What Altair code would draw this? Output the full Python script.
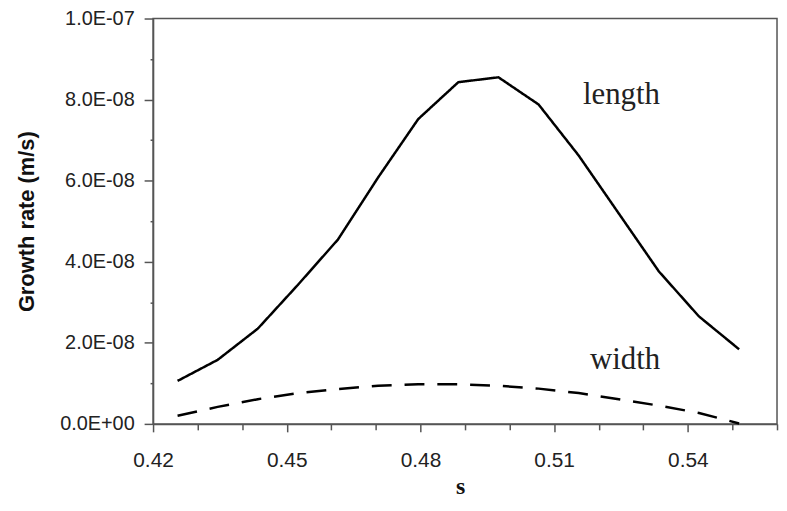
import altair as alt
import pandas as pd

s_values = [0.4255, 0.4345, 0.4435, 0.4525, 0.4615, 0.4705, 0.4795, 0.4885,
            0.4975, 0.5065, 0.5155, 0.5245, 0.5335, 0.5425, 0.5515]
length_rate = [1.06e-8, 1.58e-8, 2.35e-8, 3.43e-8, 4.55e-8, 6.08e-8, 7.52e-8, 8.43e-8,
               8.55e-8, 7.88e-8, 6.62e-8, 5.19e-8, 3.76e-8, 2.65e-8, 1.84e-8]
width_rate = [2.0e-9, 4.2e-9, 6.1e-9, 7.6e-9, 8.6e-9, 9.4e-9, 9.8e-9, 9.8e-9,
              9.4e-9, 8.7e-9, 7.6e-9, 6.1e-9, 4.5e-9, 2.7e-9, 0.1e-9]

label_text = ["length", "width"]
label_s = [0.5251, 0.5259]
label_rate = [7.88e-8, 1.35e-8]

x_major = [0.42, 0.45, 0.48, 0.51, 0.54]
x_minor = [0.43, 0.44, 0.46, 0.47, 0.49, 0.50, 0.52, 0.53, 0.55, 0.56]
y_major = [0, 2e-8, 4e-8, 6e-8, 8e-8, 1e-7]
y_minor = [1e-8, 3e-8, 5e-8, 7e-8, 9e-8]

df = pd.DataFrame({
    "s": s_values + s_values,
    "rate": length_rate + width_rate,
    "series": ["length"] * len(s_values) + ["width"] * len(s_values),
})
labels = pd.DataFrame({"s": label_s, "rate": label_rate, "text": label_text})

xscale = alt.Scale(domain=[0.42, 0.56], nice=False, zero=False)
yscale = alt.Scale(domain=[0, 1e-7], nice=False)

AX = "#555555"
LBL = "#222222"

x_major_axis = alt.Axis(values=x_major, format=".2f", tickSize=8, tickWidth=1.5, tickColor=AX,
                        domainColor=AX, domainWidth=1.5, grid=False, labelFont="Liberation Sans",
                        labelFontSize=21, labelColor=LBL, labelPadding=18, orient="bottom",
                        titleFont="Liberation Serif", titleFontWeight="bold", titleFontSize=24,
                        titleColor="#111111", titleX=309, titleY=70, titleBaseline="alphabetic",
                        titleAlign="center", labelFlush=False)
y_major_axis = alt.Axis(values=y_major, tickSize=9, tickWidth=1.5, tickColor=AX,
                        domainColor=AX, domainWidth=1.5, grid=False, labelFont="Liberation Sans",
                        labelFontSize=20, labelColor=LBL, labelPadding=10, orient="left",
                        labelExpr="replace(replace(format(datum.value, '.1e'), 'e-', 'E-0'), 'e+', 'E+0')",
                        titleFont="Liberation Sans", titleFontWeight="bold", titleFontSize=22,
                        titleColor="#111111", titleX=-127, titleY=204, titleAngle=270,
                        titleBaseline="middle", titleAlign="center", labelFlush=False)

x_minor_axis = alt.Axis(values=x_minor, labels=False, tickSize=6, tickWidth=1.5, tickColor=AX,
                        domain=False, grid=False, orient="bottom")
y_minor_axis = alt.Axis(values=y_minor, labels=False, tickSize=3, tickWidth=1.5, tickColor=AX,
                        domain=False, grid=False, orient="left")

lines = alt.Chart(df).mark_line(color="#000000", strokeWidth=2.5).encode(
    x=alt.X("s:Q", scale=xscale, axis=x_major_axis, title="s"),
    y=alt.Y("rate:Q", scale=yscale, axis=y_major_axis, title="Growth rate (m/s)"),
    strokeDash=alt.StrokeDash("series:N", scale=alt.Scale(domain=["length", "width"],
                                                          range=[[1, 0], [20, 13]]), legend=None),
    detail="series:N",
)

minor = alt.Chart(df).mark_line(opacity=0).encode(
    x=alt.X("s:Q", scale=xscale, axis=x_minor_axis, title=None),
    y=alt.Y("rate:Q", scale=yscale, axis=y_minor_axis, title=None),
    detail="series:N",
)

text = alt.Chart(labels).mark_text(font="Liberation Serif", fontSize=31, color="#222222",
                                   align="center", baseline="alphabetic").encode(
    x=alt.X("s:Q", scale=xscale, axis=None),
    y=alt.Y("rate:Q", scale=yscale, axis=None),
    text="text:N",
)

chart = alt.layer(lines, minor, text).resolve_axis(x="independent", y="independent").properties(
    width=628, height=408,
    autosize=alt.AutoSizeParams(type="none"),
    padding={"left": 146, "top": 9, "right": 2, "bottom": 73},
).configure_view(stroke=AX, strokeWidth=1.5)

chart.save("out.html", embed_options={"renderer": "svg", "actions": False})
